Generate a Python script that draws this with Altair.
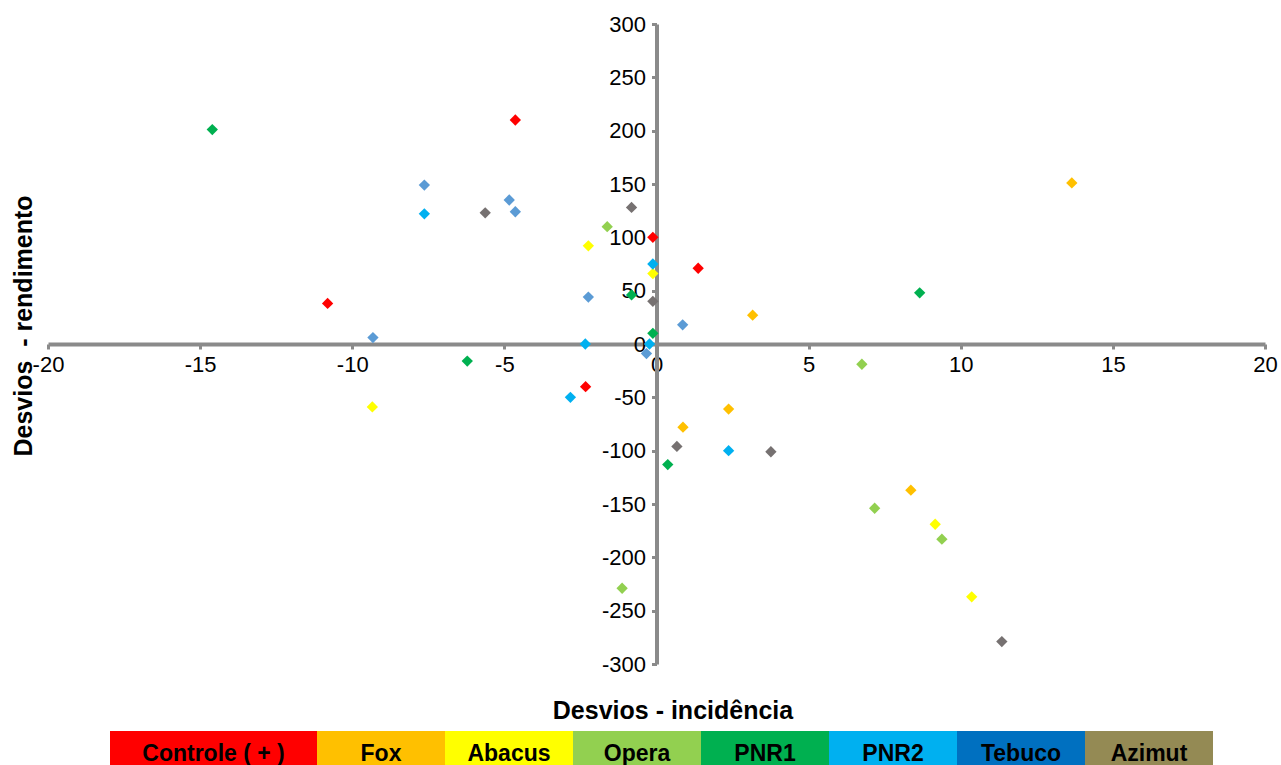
import altair as alt
import pandas as pd

# ---- data ----
series = ["Controle (+)", "Fox", "Abacus", "Opera", "PNR1", "PNR2", "Tebuco", "Azimut"]

controle_x = [-4.64, -0.12, 1.37, -10.81, -2.33]
controle_y = [210, 100, 71, 38, -40]

fox_x = [13.65, 3.16, 2.37, 0.87, 8.36]
fox_y = [151, 27, -61, -78, -137]

abacus_x = [-2.24, -0.12, -9.34, 9.16, 10.36]
abacus_y = [92, 66, -59, -169, -237]

opera_x = [-1.62, 6.75, 7.17, 9.38, -1.13]
opera_y = [110, -19, -154, -183, -229]

pnr1_x = [-14.6, -0.82, -0.12, -6.22, 0.37, 8.65]
pnr1_y = [201, 46, 10, -16, -113, 48]

pnr2_x = [-7.63, -0.12, -2.34, -0.23, -2.83, 2.37]
pnr2_y = [122, 75, 0, 0, -50, -100]

tebuco_x = [-7.63, -4.84, -4.64, -2.24, 0.86, -9.32, -0.33]
tebuco_y = [149, 135, 124, 44, 18, 6, -9]

azimut_x = [-5.63, -0.82, -0.12, 0.67, 3.76, 11.35]
azimut_y = [123, 128, 40, -96, -101, -279]

point_colors = ["#FF0000", "#FFC000", "#FFFF00", "#92D050", "#00B050", "#00B0F0", "#5B9BD5", "#767171"]
legend_colors = ["#FF0000", "#FFC000", "#FFFF00", "#92D050", "#00B050", "#00B0F0", "#0070C0", "#948A54"]

x_ticks = [-20, -15, -10, -5, 0, 5, 10, 15, 20]
y_ticks = [-300, -250, -200, -150, -100, -50, 0, 50, 100, 150, 200, 250, 300]

xs = [controle_x, fox_x, abacus_x, opera_x, pnr1_x, pnr2_x, tebuco_x, azimut_x]
ys = [controle_y, fox_y, abacus_y, opera_y, pnr1_y, pnr2_y, tebuco_y, azimut_y]

rows = []
for name, sx, sy in zip(series, xs, ys):
    for a, b in zip(sx, sy):
        rows.append({"serie": name, "x": a, "y": b})
pts = pd.DataFrame(rows)

# ---- layout ----
W, H = 1217, 640
AX = "#8A8A8A"
FONT = "Liberation Sans"

points = alt.Chart(pts).mark_point(
    shape="diamond", filled=True, size=128, opacity=1
).encode(
    x=alt.X("x:Q", scale=alt.Scale(domain=[-20, 20], nice=False, zero=False),
            axis=alt.Axis(values=x_ticks, offset=-H / 2, title=None, grid=False,
                          domainColor=AX, domainWidth=4, tickColor=AX, tickWidth=3,
                          tickSize=5, labelFont=FONT, labelFontSize=22, labelColor="#000000",
                          labelPadding=5, labelFlush=False, labelOverlap=False,
                          labelExpr="toString(datum.value)")),
    y=alt.Y("y:Q", scale=alt.Scale(domain=[-300, 300], nice=False, zero=False),
            axis=alt.Axis(values=y_ticks, offset=-W / 2, title=None, grid=False,
                          domainColor=AX, domainWidth=4, tickColor=AX, tickWidth=3,
                          tickSize=5, labelFont=FONT, labelFontSize=22, labelColor="#000000",
                          labelPadding=6, labelFlush=False, labelOverlap=False,
                          labelExpr="toString(datum.value)")),
    color=alt.Color("serie:N", scale=alt.Scale(domain=series, range=point_colors), legend=None),
)

# legend bar (category colour strip)
seg_widths = [207, 128, 128, 128, 128, 128, 128, 128]
leg_left = 62
lo, hi, mid = [], [], []
cur = leg_left
for w in seg_widths:
    lo.append(cur)
    hi.append(cur + w)
    mid.append(cur + w / 2)
    cur += w
leg_labels = ["Controle ( + )", "Fox", "Abacus", "Opera", "PNR1", "PNR2", "Tebuco", "Azimut"]
leg = pd.DataFrame({"cat": leg_labels, "col": legend_colors, "lo": lo, "hi": hi, "mid": mid})

leg_rect = alt.Chart(leg).mark_rect().encode(
    x=alt.X("lo:Q", scale=None, axis=None),
    x2="hi:Q",
    y=alt.value(707),
    y2=alt.value(741),
    fill=alt.Fill("col:N", scale=None, legend=None),
)
leg_text = alt.Chart(leg).mark_text(
    font=FONT, fontSize=23, fontWeight="bold", color="#000000", baseline="alphabetic", align="center"
).encode(
    x=alt.X("mid:Q", scale=None, axis=None),
    y=alt.value(737),
    text="cat:N",
)

titles = pd.DataFrame({"t": ["Desvios - incidência"]})
x_title = alt.Chart(titles).mark_text(
    font=FONT, fontSize=25, fontWeight="bold", color="#000000", baseline="alphabetic", align="center"
).encode(x=alt.value(625), y=alt.value(695), text="t:N")

ytitles = pd.DataFrame({"t": ["Desvios \u00a0- rendimento"]})
y_title = alt.Chart(ytitles).mark_text(
    font=FONT, fontSize=25, fontWeight="bold", color="#000000", baseline="alphabetic",
    align="center", angle=270
).encode(x=alt.value(-16), y=alt.value(302), text="t:N")

chart = alt.layer(points, leg_rect, leg_text, x_title, y_title).resolve_scale(
    x="independent", y="independent"
).properties(
    width=W, height=H,
    background="#FFFFFF",
    autosize=alt.AutoSizeParams(type="none"),
    padding={"left": 48, "top": 24, "right": 16, "bottom": 101},
).configure_view(strokeWidth=0, stroke="transparent")

chart.save("out.html", embed_options={"renderer": "svg", "actions": False})
